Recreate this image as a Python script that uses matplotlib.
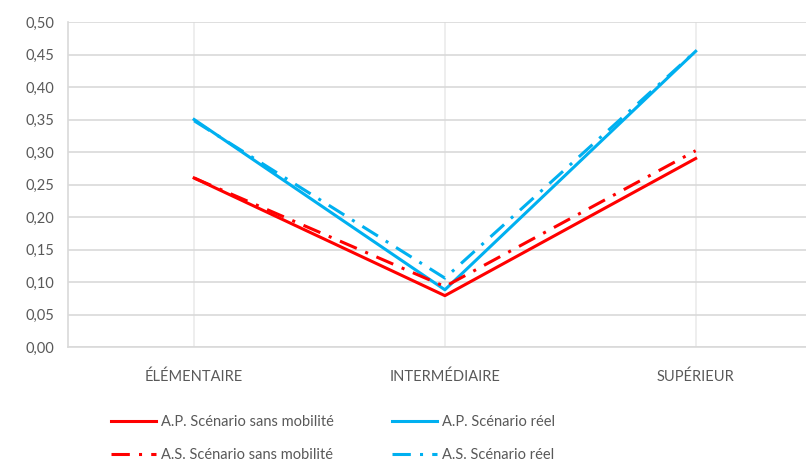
import numpy as np
import matplotlib.pyplot as plt
from matplotlib.ticker import FuncFormatter

plt.rcParams['font.family'] = ['Lato', 'DejaVu Sans']

niveaux = ["ÉLÉMENTAIRE", "INTERMÉDIAIRE", "SUPÉRIEUR"]
ap_sans_mob = [0.260, 0.079, 0.290]
ap_reel = [0.350, 0.088, 0.455]
as_sans_mob = [0.260, 0.093, 0.302]
as_reel = [0.348, 0.106, 0.455]

rouge = '#FF0000'
bleu = '#00B0F0'
gris = '#595959'
dashdot = (0, (6, 3, 1, 3))

fig = plt.figure(figsize=(8.06, 4.66), dpi=100)
ax = fig.add_axes([68/806, 119/466, 738/806, 325/466])

x = np.arange(len(niveaux))
l1, = ax.plot(x, ap_sans_mob, color=rouge, lw=2.2, label="A.P. Scénario sans mobilité")
l2, = ax.plot(x, ap_reel, color=bleu, lw=2.2, label="A.P. Scénario réel")
l3, = ax.plot(x, as_sans_mob, color=rouge, lw=2.2, linestyle=dashdot, label="A.S. Scénario sans mobilité")
l4, = ax.plot(x, as_reel, color=bleu, lw=2.2, linestyle=dashdot, label="A.S. Scénario réel")

ax.set_xlim(-0.503, 2.44)
ax.set_ylim(0, 0.5)
ax.set_yticks(np.arange(0, 0.51, 0.05))
ax.yaxis.set_major_formatter(FuncFormatter(lambda v, p: f"{v:.2f}".replace('.', ',')))
ax.set_xticks(x)
ax.set_xticklabels(niveaux)

ax.grid(axis='y', color='#D9D9D9', lw=1.2)
ax.grid(axis='x', color='#EBEBEB', lw=1.2)
ax.set_axisbelow(True)
for s in ['top', 'right']:
    ax.spines[s].set_visible(False)
for s in ['left', 'bottom']:
    ax.spines[s].set_color('#D9D9D9')
    ax.spines[s].set_linewidth(1.2)
ax.tick_params(length=0, colors=gris, labelsize=10.5)
ax.tick_params(axis='x', pad=16)
ax.tick_params(axis='y', pad=10)

fig.legend(handles=[l1, l3, l2, l4], ncol=2, loc='lower left',
           bbox_to_anchor=(98/806, -0.02), frameon=False, fontsize=10.5,
           labelcolor=gris, handlelength=3.1, columnspacing=3.95,
           handletextpad=0.35, labelspacing=1.3)

fig.savefig('out.png', dpi=100)
